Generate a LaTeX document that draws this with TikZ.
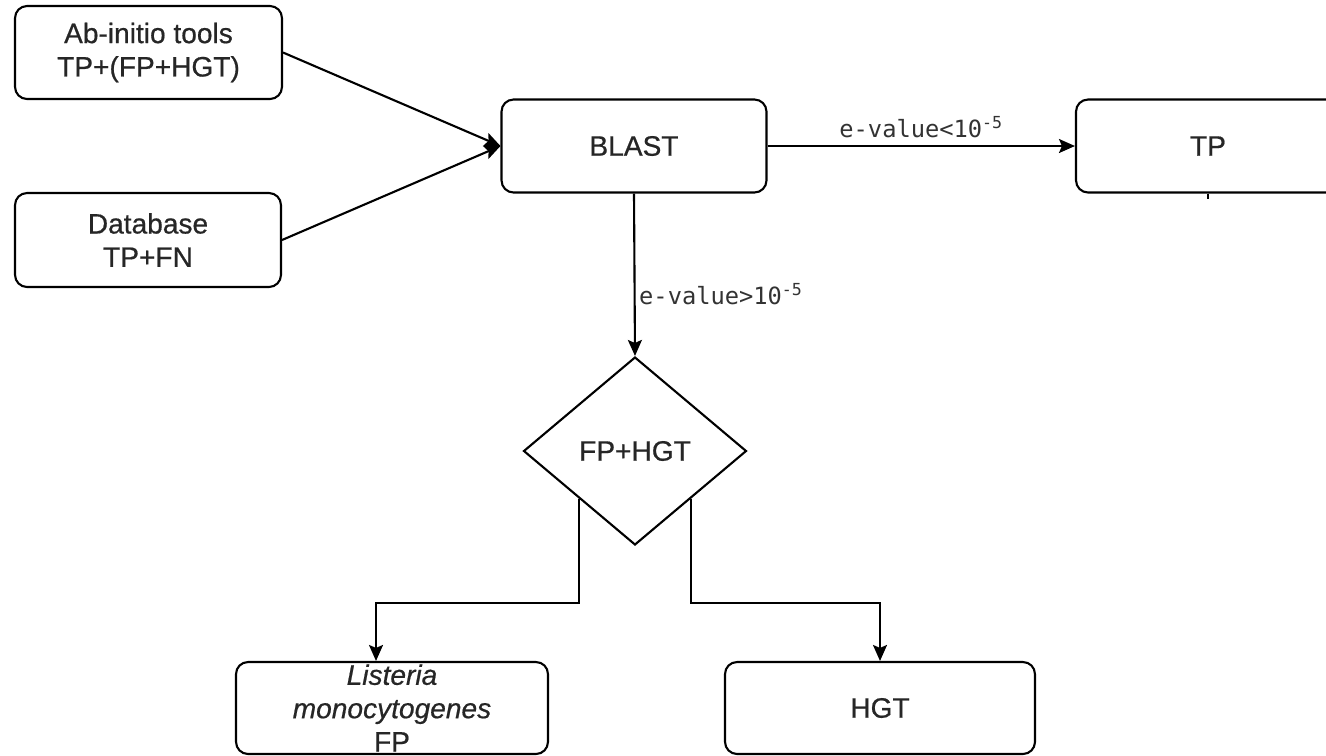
\documentclass[tikz,border=0pt]{standalone}
\usepackage{fontspec}
\setmainfont{Liberation Sans}[FakeBold=0.6]
\setmonofont{DejaVu Sans Mono}
\usetikzlibrary{shapes.geometric,arrows.meta}

\newcommand{\boxfont}{\fontsize{16}{19}\selectfont\addfontfeature{FakeBold=0.6}}

\tikzset{
  box/.style={draw, rectangle, rounded corners=0.24cm, line width=1.2pt,
    align=center, inner sep=0pt, text=black!85, font=\boxfont},
  decision/.style={draw, diamond, line width=1.2pt, inner sep=0pt,
    minimum width=4.46cm, minimum height=3.76cm, text=black!85, font=\boxfont},
  arr/.style={line width=1.2pt, -{Stealth[length=0.32cm,width=0.28cm,inset=0.06cm]}},
  cond/.style={font=\ttfamily\fontsize{13.5}{16}\selectfont, text=black!80, inner sep=2pt}
}

\begin{document}
\begin{tikzpicture}[x=0.02cm, y=-0.02cm]
  \useasboundingbox (0,0) rectangle (1326,755);
  \clip (0,0) rectangle (1326,755);

  % inputs
  \node[box, minimum width=5.34cm, minimum height=1.86cm] (ab) at (148.5,52.5)
    {Ab-initio tools\\TP+(FP+HGT)};
  \node[box, minimum width=5.32cm, minimum height=1.88cm] (db) at (148,240)
    {Database\\TP+FN};

  % search step and true positives
  \node[box, minimum width=5.3cm, minimum height=1.86cm] (blast) at (634,146) {BLAST};
  \node[box, minimum width=5.28cm, minimum height=1.86cm] (tp) at (1208,146) {TP};

  % decision
  \node[decision] (dia) at (635,451) {FP+HGT};

  % outcomes
  \node[box, minimum width=6.24cm, minimum height=1.84cm] (lis) at (392,708)
    {\itshape Listeria\\\itshape monocytogenes\\FP};
  \node[box, minimum width=6.2cm, minimum height=1.84cm] (hgt) at (880,708) {HGT};

  % connectors
  \draw[arr] (ab.east) -- (blast.west);
  \draw[arr] (db.east) -- (blast.west);
  \draw[arr] (blast.east) -- node[cond, above, yshift=2pt] {e-value<10\textsuperscript{-5}} (tp.west);
  \draw[arr] (blast.south) -- node[cond, right, pos=0.62] {e-value>10\textsuperscript{-5}} (dia.north);
  \draw[arr] (dia.south west) |- ([xshift=-0.32cm, yshift=1.16cm]lis.north)
    -- ([xshift=-0.32cm]lis.north);
  \draw[arr] (dia.south east) |- ([yshift=1.16cm]hgt.north) -- (hgt.north);
  \draw[line width=1.2pt] (tp.south) -- ++(0,5);
\end{tikzpicture}
\end{document}
